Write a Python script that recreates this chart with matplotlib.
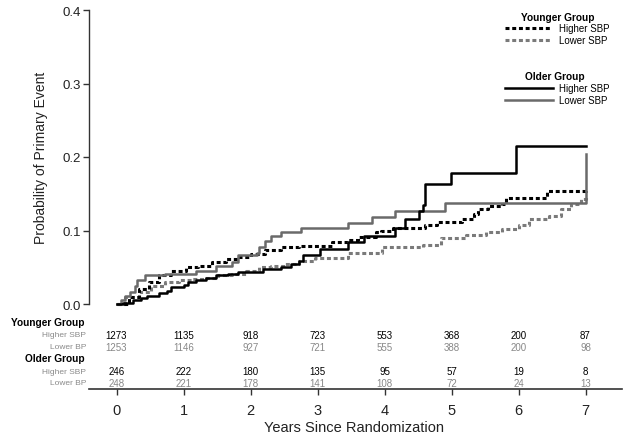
import matplotlib
matplotlib.use("Agg")
import matplotlib.pyplot as plt
from matplotlib.lines import Line2D

plt.rcParams['font.family'] = ['Liberation Sans', 'DejaVu Sans']

# ---------------- data ----------------
years = [0, 1, 2, 3, 4, 5, 6, 7]
y_ticks = [0.0, 0.1, 0.2, 0.3, 0.4]

# Younger group, higher SBP (black dotted)
yh_t = [0, 0.18, 0.33, 0.48, 0.63, 0.82, 1.03, 1.22, 1.42, 1.63, 1.82, 2.01, 2.22, 2.46, 2.72,
        3.21, 3.46, 3.61, 3.87, 3.95, 4.13, 4.61, 4.78, 5.15, 5.33, 5.40, 5.55, 5.75, 5.82, 6.42, 7.0]
yh_p = [0, 0.009, 0.020, 0.030, 0.039, 0.045, 0.050, 0.052, 0.057, 0.061, 0.064, 0.068, 0.073, 0.077, 0.079,
        0.084, 0.087, 0.091, 0.098, 0.100, 0.104, 0.108, 0.111, 0.116, 0.122, 0.129, 0.133, 0.136, 0.144, 0.154, 0.156]

# Younger group, lower SBP (gray dotted)
yl_t = [0, 0.13, 0.33, 0.52, 0.73, 0.93, 1.12, 1.33, 1.52, 1.72, 1.93, 2.12, 2.31, 2.52, 2.72, 2.97,
        3.46, 3.96, 4.58, 4.85, 5.21, 5.51, 5.75, 6.0, 6.15, 6.45, 6.64, 6.79, 6.94, 7.0]
yl_p = [0, 0.009, 0.016, 0.025, 0.030, 0.032, 0.034, 0.036, 0.039, 0.041, 0.045, 0.050, 0.052, 0.054, 0.059, 0.063,
        0.070, 0.077, 0.080, 0.090, 0.094, 0.098, 0.102, 0.107, 0.116, 0.120, 0.129, 0.136, 0.143, 0.148]

# Older group, higher SBP (black solid)
oh_t = [0, 0.10, 0.25, 0.37, 0.45, 0.63, 0.75, 0.82, 1.0, 1.07, 1.19, 1.33, 1.48, 1.67, 1.82, 2.01,
        2.19, 2.46, 2.61, 2.72, 2.79, 3.04, 3.45, 3.69, 4.16, 4.30, 4.52, 4.57, 4.60, 4.99, 5.97, 7.0]
oh_p = [0, 0.002, 0.005, 0.008, 0.011, 0.015, 0.018, 0.023, 0.026, 0.030, 0.033, 0.036, 0.039, 0.041, 0.043, 0.044,
        0.048, 0.050, 0.054, 0.059, 0.066, 0.075, 0.085, 0.092, 0.104, 0.115, 0.127, 0.135, 0.163, 0.178, 0.215, 0.215]

# Older group, lower SBP (gray solid)
ol_t = [0, 0.06, 0.13, 0.20, 0.28, 0.30, 0.43, 0.73, 1.18, 1.48, 1.72, 1.82, 2.09, 2.12, 2.22, 2.30, 2.46,
        2.75, 3.45, 3.82, 4.16, 4.90, 7.0, 7.0]
ol_p = [0, 0.005, 0.011, 0.016, 0.025, 0.032, 0.039, 0.041, 0.045, 0.052, 0.057, 0.066, 0.070, 0.077, 0.086, 0.093, 0.098,
        0.103, 0.110, 0.118, 0.127, 0.137, 0.137, 0.204]

# numbers at risk
risk_young_high = [1273, 1135, 918, 723, 553, 368, 200, 87]
risk_young_low = [1253, 1146, 927, 721, 555, 388, 200, 98]
risk_old_high = [246, 222, 180, 135, 95, 57, 19, 8]
risk_old_low = [248, 221, 178, 141, 108, 72, 24, 13]

# ---------------- layout helpers ----------------
W, H = 624, 439
fig = plt.figure(figsize=(W / 100, H / 100), dpi=100)

ax_left, ax_right, ax_top, ax_bot = 89, 622, 11, 390
ax = fig.add_axes([ax_left / W, 1 - ax_bot / H, (ax_right - ax_left) / W, (ax_bot - ax_top) / H])

x0_px, px_per_year = 116.5, 67.0
y0_px, px_per_unit = 305.0, 735.0
ax.set_xlim((ax_left - x0_px) / px_per_year, (ax_right - x0_px) / px_per_year)
ax.set_ylim(-(ax_bot - y0_px) / px_per_unit, (y0_px - ax_top) / px_per_unit)


def ydata(py):
    return (y0_px - py) / px_per_unit


BLACK = '#000000'
GRAY = '#6a6a6a'
GRAY_DOT = '#7a7a7a'
dot = (0, (1.3, 0.9))

ax.plot(yl_t, yl_p, drawstyle='steps-post', color=GRAY_DOT, lw=2.2, ls=dot)
ax.plot(yh_t, yh_p, drawstyle='steps-post', color=BLACK, lw=2.2, ls=dot)
ax.plot(ol_t, ol_p, drawstyle='steps-post', color=GRAY, lw=1.8)
ax.plot(oh_t, oh_p, drawstyle='steps-post', color=BLACK, lw=1.8)

# spines
for s in ['top', 'right']:
    ax.spines[s].set_visible(False)
ax.spines['left'].set_bounds(0, 0.4)
ax.spines['left'].set_color('#333333')
ax.spines['bottom'].set_color('#333333')
ax.spines['left'].set_linewidth(1.0)
ax.spines['bottom'].set_linewidth(1.2)

ax.set_yticks(y_ticks)
ax.set_yticklabels([f"{v:.1f}" for v in y_ticks], fontsize=9.5, color='#222222')
ax.set_xticks(years)
ax.set_xticklabels([str(v) for v in years], fontsize=10.5, color='#222222')
ax.tick_params(axis='y', direction='out', length=4, width=1, pad=2, colors='#333333', labelcolor='#222222')
ax.tick_params(axis='x', direction='out', length=4, width=1, pad=6, colors='#333333', labelcolor='#222222')

ax.set_ylabel('Probability of Primary Event', fontsize=10, color='#222222', va='center')
ax.yaxis.set_label_coords((41 - ax_left) / (ax_right - ax_left), (ax_bot - 158) / (ax_bot - ax_top))
ax.set_xlabel('Years Since Randomization', fontsize=10.5, color='#222222', va='center')
ax.xaxis.set_label_coords(((268 + 440) / 2 - ax_left) / (ax_right - ax_left), -(428 - ax_bot) / (ax_bot - ax_top))

# ---------------- risk table ----------------
rows = [
    (336, risk_young_high, BLACK),
    (348, risk_young_low, '#888888'),
    (372, risk_old_high, BLACK),
    (384, risk_old_low, '#888888'),
]
for py, vals, col in rows:
    for x, v in zip(years, vals):
        ax.text(x, ydata(py), str(v), ha='center', va='center', fontsize=7, color=col, clip_on=False)

fig.text(85 / W, 1 - 323 / H, 'Younger Group', ha='right', va='center', fontsize=7.3, fontweight='bold')
fig.text(86 / W, 1 - 336 / H, 'Higher SBP', ha='right', va='center', fontsize=6, color='#8a8a8a')
fig.text(86 / W, 1 - 348 / H, 'Lower BP', ha='right', va='center', fontsize=6, color='#8a8a8a')
fig.text(85 / W, 1 - 359 / H, 'Older Group', ha='right', va='center', fontsize=7.3, fontweight='bold')
fig.text(86 / W, 1 - 372 / H, 'Higher SBP', ha='right', va='center', fontsize=6, color='#8a8a8a')
fig.text(86 / W, 1 - 384 / H, 'Lower BP', ha='right', va='center', fontsize=6, color='#8a8a8a')

# ---------------- legend ----------------
def fline(x1, x2, py, **kw):
    fig.add_artist(Line2D([x1 / W, x2 / W], [1 - py / H, 1 - py / H], transform=fig.transFigure, **kw))

fig.text(558 / W, 1 - 18 / H, 'Younger Group', ha='center', va='center', fontsize=7.3, fontweight='bold')
fline(505, 552, 29, color=BLACK, lw=2.2, ls=dot)
fig.text(559 / W, 1 - 29 / H, 'Higher SBP', ha='left', va='center', fontsize=7)
fline(505, 552, 41, color=GRAY_DOT, lw=2.2, ls=dot)
fig.text(559 / W, 1 - 41 / H, 'Lower SBP', ha='left', va='center', fontsize=7)

fig.text(555 / W, 1 - 77 / H, 'Older Group', ha='center', va='center', fontsize=7.3, fontweight='bold')
fline(505, 553, 89, color=BLACK, lw=1.8)
fig.text(559 / W, 1 - 89 / H, 'Higher SBP', ha='left', va='center', fontsize=7)
fline(505, 553, 101, color=GRAY, lw=1.8)
fig.text(559 / W, 1 - 101 / H, 'Lower SBP', ha='left', va='center', fontsize=7)

fig.savefig('out.png', dpi=100)
